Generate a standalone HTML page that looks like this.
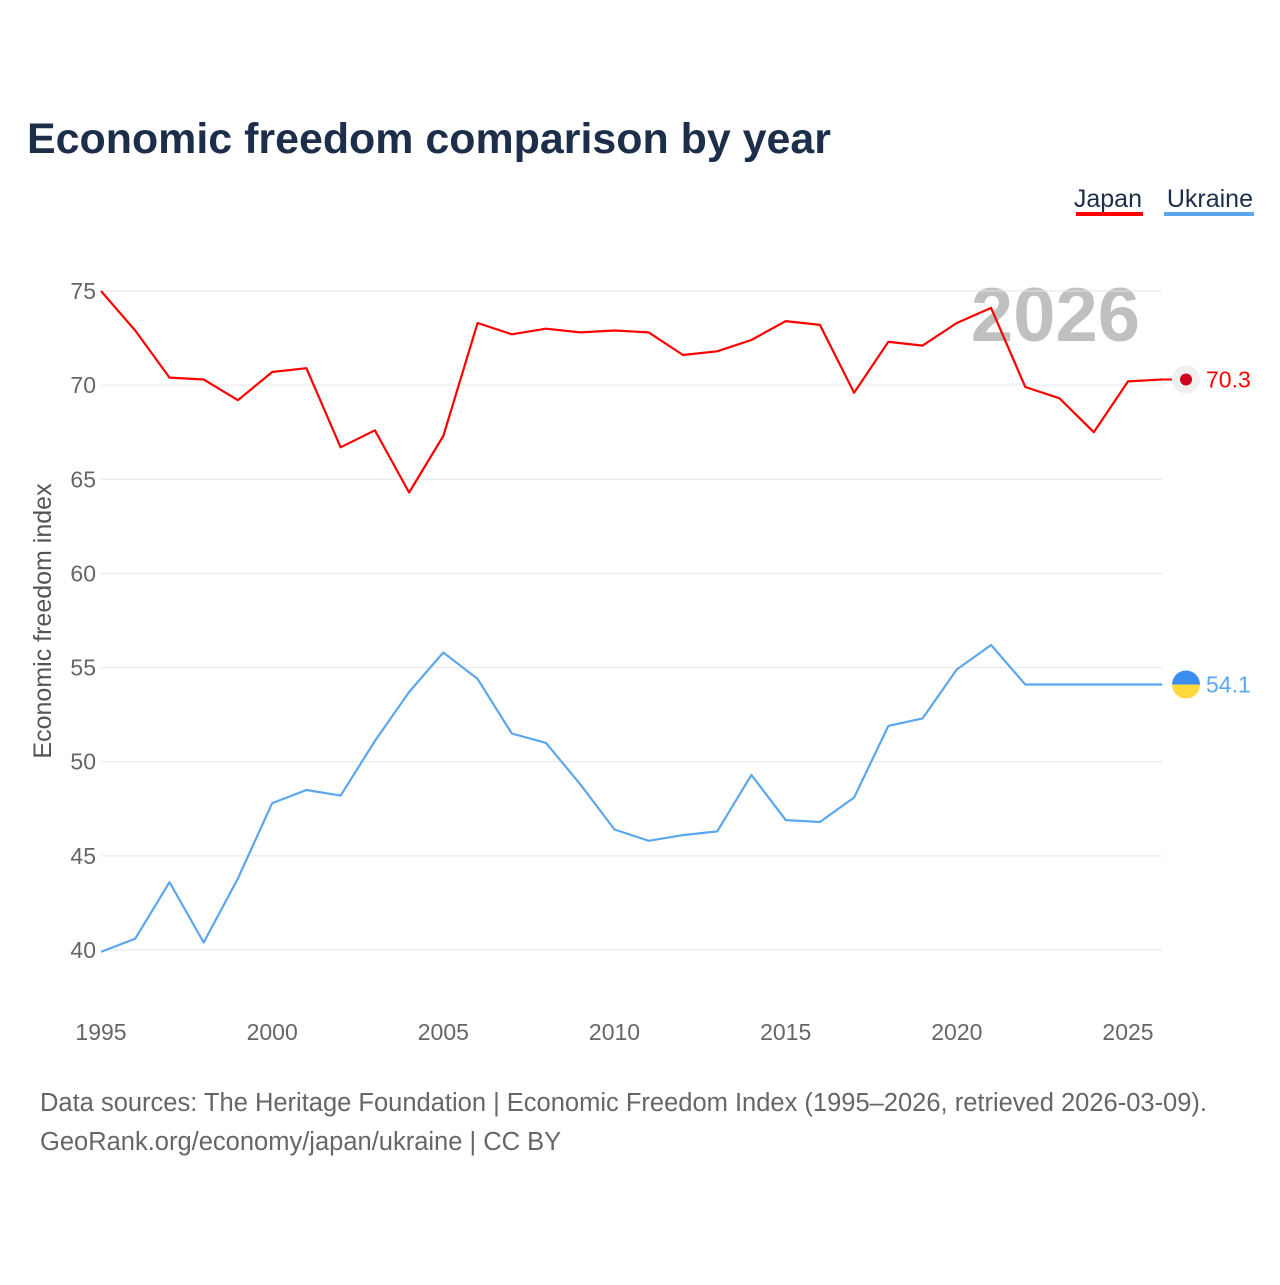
<!DOCTYPE html>
<html><head><meta charset="utf-8"><style>
body{margin:0;background:#fff;font-family:"Liberation Sans",sans-serif;}
svg text{font-family:"Liberation Sans",sans-serif;}
</style></head><body>
<svg id="chart" width="1280" height="1280" xmlns="http://www.w3.org/2000/svg">
<rect width="1280" height="1280" fill="#fff"/>
<text x="27" y="153" font-size="43" font-weight="bold" fill="#1c2e4a" textLength="804" lengthAdjust="spacingAndGlyphs">Economic freedom comparison by year</text>
<g>
<text x="1142" y="207" font-size="25" fill="#1c2e4a" text-anchor="end">Japan</text>
<rect x="1076" y="212" width="67" height="4" fill="#ff0000"/>
<text x="1253" y="207" font-size="25" fill="#1c2e4a" text-anchor="end">Ukraine</text>
<rect x="1164" y="212" width="90" height="4" fill="#5ba7ee"/>
</g>
<text x="1140" y="341" font-size="76" font-weight="bold" fill="#c0c0c0" text-anchor="end">2026</text>
<g id="grid"></g>
<g id="series"></g>
<text transform="translate(51,621) rotate(-90)" font-size="25" fill="#555" text-anchor="middle">Economic freedom index</text>
<text x="40" y="1111" font-size="25.5" fill="#666" textLength="1167" lengthAdjust="spacingAndGlyphs">Data sources: The Heritage Foundation | Economic Freedom Index (1995–2026, retrieved 2026-03-09).</text>
<text x="40" y="1150" font-size="25.5" fill="#666">GeoRank.org/economy/japan/ukraine | CC BY</text>
</svg>
<script>
const years=[1995,1996,1997,1998,1999,2000,2001,2002,2003,2004,2005,2006,2007,2008,2009,2010,2011,2012,2013,2014,2015,2016,2017,2018,2019,2020,2021,2022,2023,2024,2025,2026];
const japan=[75.0,72.9,70.4,70.3,69.2,70.7,70.9,66.7,67.6,64.3,67.3,73.3,72.7,73.0,72.8,72.9,72.8,71.6,71.8,72.4,73.4,73.2,69.6,72.3,72.1,73.3,74.1,69.9,69.3,67.5,70.2,70.3];
const ukraine=[39.9,40.6,43.6,40.4,43.8,47.8,48.5,48.2,51.1,53.7,55.8,54.4,51.5,51.0,48.8,46.4,45.8,46.1,46.3,49.3,46.9,46.8,48.1,51.9,52.3,54.9,56.2,54.1,54.1,54.1,54.1,54.1];
const yTicks=[40,45,50,55,60,65,70,75];
const xTicks=[1995,2000,2005,2010,2015,2020,2025];
const NS="http://www.w3.org/2000/svg";
const x=v=>101+(v-1995)*(1027/30);
const y=v=>950-(v-40)*(659/35);
const grid=document.getElementById('grid'),ser=document.getElementById('series');
function mk(tag,attrs,parent){const e=document.createElementNS(NS,tag);for(const k in attrs)e.setAttribute(k,attrs[k]);parent.appendChild(e);return e;}
yTicks.forEach(t=>{
  const l=mk('line',{x1:101,x2:1162,y1:y(t),y2:y(t),stroke:'#e6e6e6','stroke-width':1},grid);
  
  
  const tx=mk('text',{x:96,y:y(t)+8,'font-size':23,fill:'#666','text-anchor':'end'},grid);
  tx.textContent=t;
  
  
});
xTicks.forEach(t=>{
  const tx=mk('text',{x:x(t),y:1040,'font-size':23,fill:'#666','text-anchor':'middle'},grid);
  tx.textContent=t;
  
  
});
function line(vals,color,name){
  const d=vals.map((v,i)=>(i?'L':'M')+x(years[i]).toFixed(1)+','+y(v).toFixed(1)).join('');
  const p=mk('path',{d:d,fill:'none',stroke:color,'stroke-width':2.2,'stroke-linejoin':'round'},ser);
  
  
  const last=vals[vals.length-1];
  const t=mk('text',{x:1206,y:y(last)+8,'font-size':23,fill:color},ser);
  t.textContent=last.toFixed(1);
  
  
  return last;
}
const jl=line(japan,'#ff0000','japan');
const ul=line(ukraine,'#5ba7ee','ukraine');
mk('line',{x1:1162,x2:1172,y1:y(jl),y2:y(jl),stroke:'#ff0000','stroke-width':2},ser);
const jf=mk('circle',{cx:1186,cy:y(jl),r:14,fill:'#f0f0f0'},ser);


mk('circle',{cx:1186,cy:y(jl),r:6,fill:'#d0021b'},ser);
const uy=y(ul);
const uf=mk('path',{d:`M1172,${uy} A14,14 0 0 1 1200,${uy} Z`,fill:'#3a8ef0'},ser);


mk('path',{d:`M1172,${uy} A14,14 0 0 0 1200,${uy} Z`,fill:'#ffd93b'},ser);
</script>
</body></html>
